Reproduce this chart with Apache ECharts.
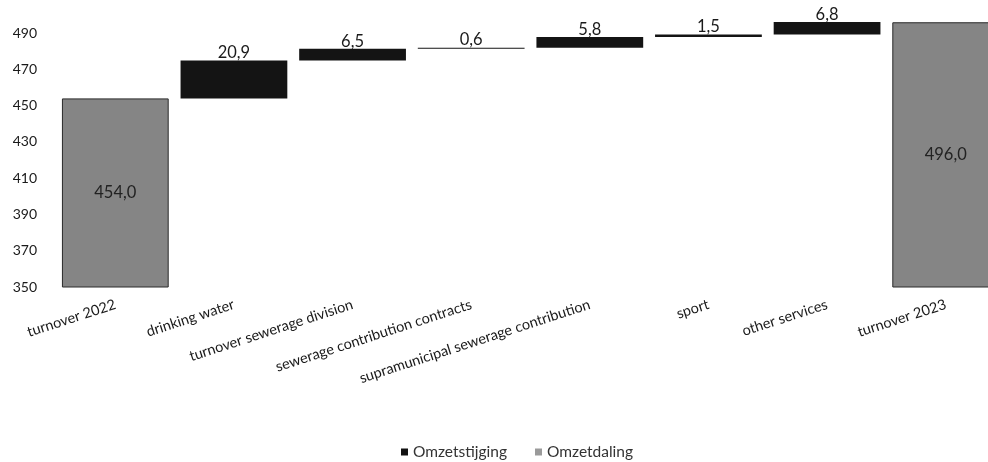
<!DOCTYPE html>
<html><head><meta charset="utf-8">
<script src="https://cdn.jsdelivr.net/npm/echarts@6/dist/echarts.min.js"></script>
<style>html,body{margin:0;padding:0;background:#fff}#c{width:988px;height:462px}</style>
</head><body><div id="c"></div>
<script>
const categories = ['turnover 2022','drinking water','turnover sewerage division','sewerage contribution contracts','supramunicipal sewerage contribution','sport','other services','turnover 2023'];
const startTotal = 454.0;
const endTotal = 496.0;
const changes = [20.9, 6.5, 0.6, 5.8, 1.5, 6.8];
const yTickLabels = [350, 370, 390, 410, 430, 450, 470, 490];
const seriesNames = ['Omzetstijging', 'Omzetdaling'];

const n = categories.length;
const baseData = [0];
const totalData = [startTotal];
const upData = ['-'];
const downData = [];
let running = startTotal;
changes.forEach(c => { baseData.push(running); totalData.push('-'); upData.push(c); running += c; });
baseData.push(0); totalData.push(endTotal); upData.push('-');
for (let i = 0; i < n; i++) downData.push('-');

const fmt = v => Number(v).toFixed(1).replace('.', ',');
const FONT = 'Lato';

const chart = echarts.init(document.getElementById('c'));
chart.setOption({
  animation: false,
  textStyle: { fontFamily: FONT },
  grid: { left: 56, width: 949, top: 15, height: 272, outerBoundsMode: 'none', containLabel: false },
  xAxis: {
    type: 'category', data: categories,
    axisLine: { show: false }, axisTick: { show: false },
    axisLabel: { interval: 0, rotate: 18, margin: 17, fontSize: 14.5, color: '#1a1a1a', fontFamily: FONT, hideOverlap: false }
  },
  yAxis: {
    type: 'value', min: 350, max: 500, interval: 10,
    splitLine: { show: false }, axisLine: { show: false }, axisTick: { show: false },
    axisLabel: {
      margin: 19, fontSize: 14, color: '#1a1a1a', fontFamily: FONT,
      formatter: v => yTickLabels.includes(v) ? String(v) : ''
    }
  },
  legend: {
    top: 439, left: 396, icon: 'rect', itemWidth: 7, itemHeight: 7, itemGap: 28,
    textStyle: { fontSize: 15.5, color: '#333', fontFamily: FONT },
    data: [
      { name: seriesNames[0], itemStyle: { color: '#111' } },
      { name: seriesNames[1], itemStyle: { color: '#9a9a9a' } }
    ]
  },
  series: [
    { name: 'base', type: 'bar', stack: 'w', data: baseData, barWidth: '90%',
      itemStyle: { color: 'rgba(0,0,0,0)' }, silent: true },
    { name: 'totaal', type: 'bar', stack: 'w', data: totalData, barWidth: '90%',
      itemStyle: { color: '#858585', borderColor: '#2a2a2a', borderWidth: 1 },
      label: { show: true, position: 'inside', fontSize: 16.5, color: '#222', formatter: p => fmt(p.value) } },
    { name: seriesNames[0], type: 'bar', stack: 'w', data: upData, barWidth: '90%',
      itemStyle: { color: '#141414' },
      label: { show: true, position: 'top', distance: -1, fontSize: 16.5, color: '#1a1a1a', formatter: p => fmt(p.value) } },
    { name: seriesNames[1], type: 'bar', stack: 'w', data: downData, barWidth: '90%',
      itemStyle: { color: '#9a9a9a' } }
  ]
});
</script></body></html>
